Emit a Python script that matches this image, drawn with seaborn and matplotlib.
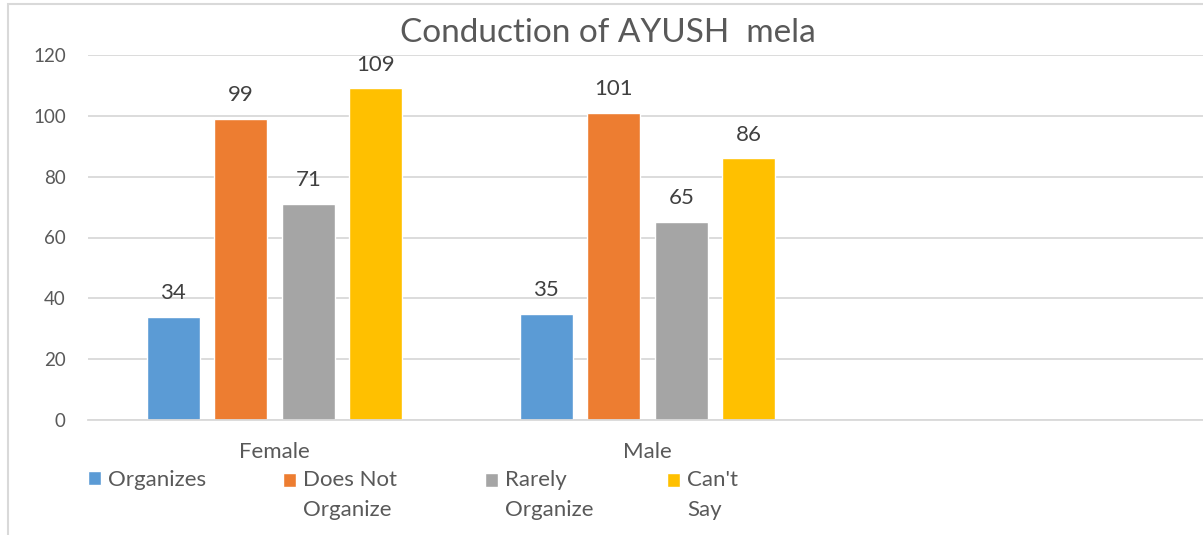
import matplotlib
matplotlib.use("Agg")
import matplotlib.pyplot as plt
import seaborn as sns
import pandas as pd
from matplotlib.patches import Rectangle
from matplotlib.legend_handler import HandlerPatch

genders = ["Female", "Male"]
responses = ["Organizes", "Does Not Organize", "Rarely Organize", "Can't Say"]
female_counts = [34, 99, 71, 109]
male_counts = [35, 101, 65, 86]
legend_labels = ["Organizes", "Does Not\nOrganize", "Rarely\nOrganize", "Can't\nSay"]
colors = ["#5B9BD5", "#ED7D31", "#A5A5A5", "#FFC000"]
yticks = [0, 20, 40, 60, 80, 100, 120]
title = "Conduction of AYUSH  mela"

rows = []
for g, vals in zip(genders, [female_counts, male_counts]):
    for r, v in zip(responses, vals):
        rows.append({"Gender": g, "Response": r, "Count": v})
df = pd.DataFrame(rows)

sns.set_theme(style="white")
plt.rcParams["font.family"] = ["Lato", "DejaVu Sans"]

W, H = 1203, 535
fig = plt.figure(figsize=(W / 100, H / 100), dpi=100)
ax = fig.add_axes([88 / W, 115 / H, 1119 / W, 365 / H])

sns.barplot(data=df, x="Gender", y="Count", hue="Response", order=genders,
            hue_order=responses, palette=colors, width=0.724, gap=0.215,
            saturation=1, ax=ax, legend=True)
handles = list(ax.get_legend().legend_handles)
ax.get_legend().remove()

ax.set_xlim(-0.5, 2.5)
ax.set_ylim(0, 120)
ax.set_yticks(yticks)
ax.set_xlabel("")
ax.set_ylabel("")
ax.yaxis.grid(True, color="#d9d9d9", lw=1.3)
ax.set_axisbelow(True)
for s in ["top", "right", "left"]:
    ax.spines[s].set_visible(False)
ax.spines["bottom"].set_color("#d9d9d9")
ax.spines["bottom"].set_linewidth(1.3)
ax.tick_params(axis="both", length=0, labelcolor="#595959")
ax.tick_params(axis="y", pad=16, labelsize=13.5)
ax.tick_params(axis="x", pad=16, labelsize=16)

for cont in ax.containers:
    ax.bar_label(cont, padding=10, fontsize=16, color="#404040")

fig.text(0.505, (H - 33) / H, title, ha="center", va="center",
         fontsize=24, color="#595959")

fig.add_artist(Rectangle((8 / W, -0.1), 1.2, (H - 4) / H + 0.1,
                         transform=fig.transFigure, fill=False,
                         edgecolor="#d9d9d9", lw=1.5))


def make_handler(shift):
    def f(legend, orig_handle, xdescent, ydescent, width, height, fontsize):
        return Rectangle((-xdescent, -ydescent + shift), width, height)
    return HandlerPatch(patch_func=f)


xpos = [88, 283, 485, 667]
for i in range(4):
    multiline = "\n" in legend_labels[i]
    leg = fig.legend(handles=[handles[i]], labels=[legend_labels[i]],
                     loc="upper left", bbox_to_anchor=(xpos[i] / W, (H - 470) / H),
                     frameon=False, borderpad=0, borderaxespad=0,
                     handlelength=0.6, handleheight=0.6, handletextpad=0.3,
                     fontsize=16, labelcolor="#595959",
                     handler_map={handles[i]: make_handler(10.6 if multiline else 0)})
    for t in leg.get_texts():
        t.set_linespacing(1.6)

fig.savefig("out.png", dpi=100)
